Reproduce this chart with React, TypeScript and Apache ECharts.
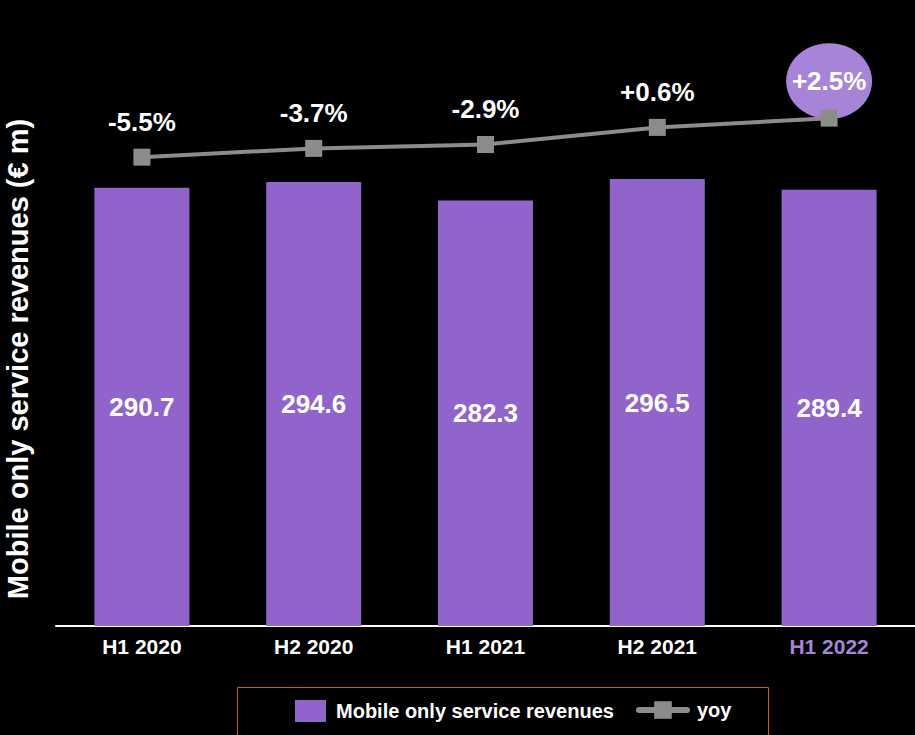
import React, { useEffect, useRef } from "react";
import * as echarts from "echarts";

const categories = ["H1 2020", "H2 2020", "H1 2021", "H2 2021", "H1 2022"];
const revenues = [290.7, 294.6, 282.3, 296.5, 289.4];
const yoy = [-5.5, -3.7, -2.9, 0.6, 2.5];
const highlightIndex = 4;

const FONT = "Liberation Sans, Arial, sans-serif";
const BAR = "#9164CC";
const HIGHLIGHT = "#A884D8";
const LINE = "#8C8C8C";

function fmtPct(v: number) {
  return (v > 0 ? "+" : "") + v.toFixed(1) + "%";
}

export default function App() {
  const ref = useRef<HTMLDivElement>(null);
  useEffect(() => {
    if (!ref.current) return;
    const chart = echarts.init(ref.current, null, { renderer: "svg" });
    const legendText = { color: "#ffffff", fontSize: 20, fontWeight: "bold", fontFamily: FONT };
    chart.setOption({
      animation: false,
      backgroundColor: "#000000",
      textStyle: { fontFamily: FONT },
      grid: { left: 56, right: 0, top: 23, bottom: 109, containLabel: false },
      xAxis: {
        type: "category",
        data: categories.map((c, i) =>
          i === highlightIndex ? { value: c, textStyle: { color: HIGHLIGHT } } : c
        ),
        axisLine: { show: true, lineStyle: { color: "#ffffff", width: 2 } },
        axisTick: { show: false },
        axisLabel: { color: "#ffffff", fontSize: 21, fontWeight: "bold", margin: 10, fontFamily: FONT },
      },
      yAxis: [
        { type: "value", min: 0, max: 400, show: false, splitLine: { show: false } },
        { type: "value", min: -101.6, max: 22, show: false, splitLine: { show: false } },
      ],
      legend: [
        {
          show: true,
          left: 290,
          top: 695,
          itemWidth: 31,
          itemHeight: 22,
          textStyle: { ...legendText, padding: [0, 0, 0, 5] },
          data: [{ name: "Mobile only service revenues", icon: "rect" }],
        },
        {
          show: true,
          left: 631,
          top: 695,
          itemWidth: 48,
          itemHeight: 22,
          lineStyle: { width: 6, cap: "round" },
          textStyle: { ...legendText, padding: [0, 0, 0, 5] },
          data: [{ name: "yoy" }],
        },
      ],
      graphic: [
        {
          type: "rect",
          shape: { x: 237.5, y: 687.5, width: 531, height: 60 },
          style: { fill: "none", stroke: "#C8640A", lineWidth: 1 },
          silent: true,
        },
        {
          type: "text",
          x: 18,
          y: 359,
          rotation: Math.PI / 2,
          style: {
            text: "Mobile only service revenues (€ m)",
            fill: "#ffffff",
            font: `bold 29px ${FONT}`,
            align: "center",
            verticalAlign: "middle",
          },
        },
      ],
      series: [
        {
          name: "Mobile only service revenues",
          type: "bar",
          data: revenues,
          barWidth: 95,
          itemStyle: { color: BAR },
          label: {
            show: true,
            position: "inside",
            color: "#ffffff",
            fontSize: 26,
            fontWeight: "bold",
            fontFamily: FONT,
          },
          z: 2,
        },
        {
          name: "yoy-highlight",
          type: "scatter",
          yAxisIndex: 1,
          data: yoy.map((v, i) => (i === highlightIndex ? v : null)),
          symbol: "circle",
          symbolSize: [86, 76],
          symbolOffset: [0, -37],
          itemStyle: { color: HIGHLIGHT, opacity: 1 },
          label: {
            show: true,
            position: "inside",
            formatter: (p: any) => fmtPct(p.value),
            color: "#ffffff",
            fontSize: 26,
            fontWeight: "bold",
            fontFamily: FONT,
          },
          z: 3,
          silent: true,
        },
        {
          name: "yoy",
          type: "line",
          yAxisIndex: 1,
          data: yoy.map((v, i) =>
            i === highlightIndex ? { value: v, label: { show: false } } : v
          ),
          symbol: "rect",
          symbolSize: 17,
          lineStyle: { color: LINE, width: 4 },
          itemStyle: { color: LINE },
          label: {
            show: true,
            position: "top",
            distance: 14,
            formatter: (p: any) => fmtPct(p.value),
            color: "#ffffff",
            fontSize: 26,
            fontWeight: "bold",
            fontFamily: FONT,
          },
          z: 4,
        },
      ],
    });
    return () => chart.dispose();
  }, []);
  return <div ref={ref} style={{ width: 915, height: 735, position: "absolute", left: 0, top: 0 }} />;
}
